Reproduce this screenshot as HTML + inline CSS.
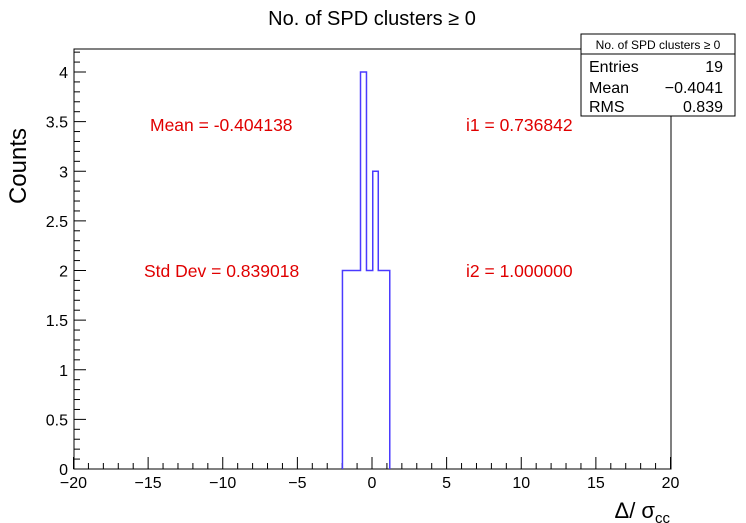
<!DOCTYPE html>
<html><head><meta charset="utf-8"><style>
body{margin:0;background:#fff}
svg{display:block;font-family:"Liberation Sans",sans-serif}
</style></head><body>
<svg id="c" width="746" height="523">
<rect x="0" y="0" width="746" height="523" fill="#fff"/>
<text x="372" y="25" font-size="20" text-anchor="middle">No. of SPD clusters ≥ 0</text>
<rect x="74" y="49" width="597" height="420" fill="none" stroke="#000" stroke-width="1"/>
<g id="ticks"></g>
<path id="hist" fill="none" stroke="#4a3aff" stroke-width="1.5"/>
<text x="26" y="128" font-size="24" text-anchor="end" transform="rotate(-90 26 128)">Counts</text>
<text x="670" y="518" font-size="22" text-anchor="end">Δ/ σ<tspan font-size="15" dy="5">cc</tspan></text>
<g fill="#e00000" font-size="17.5">
<text x="150" y="131">Mean = -0.404138</text>
<text x="466" y="131">i1 = 0.736842</text>
<text x="144" y="277">Std Dev = 0.839018</text>
<text x="466" y="277">i2 = 1.000000</text>
</g>
<g>
<rect x="581" y="34" width="154" height="82" fill="#fff" stroke="#000"/>
<line x1="581" y1="54" x2="735" y2="54" stroke="#000"/>
<text x="658" y="49" font-size="12" text-anchor="middle">No. of SPD clusters ≥ 0</text>
<text x="589" y="72" font-size="16">Entries</text><text x="723" y="72" font-size="16" text-anchor="end">19</text>
<text x="589" y="93" font-size="16">Mean</text><text x="723" y="93" font-size="16" text-anchor="end">−0.4041</text>
<text x="589" y="112" font-size="16">RMS</text><text x="723" y="112" font-size="16" text-anchor="end">0.839</text>
</g>
</svg>
<script>
const binEdges=[-1.98,-0.77,-0.37,0.05,0.42,1.19];
const binCounts=[2,4,2,3,2];
const xTicks=[-20,-15,-10,-5,0,5,10,15,20];
const yTicks=[0,0.5,1,1.5,2,2.5,3,3.5,4];
const X=v=>372+v*14.925, Y=v=>469-v*99.25;
const ns="http://www.w3.org/2000/svg";
const g=document.getElementById('ticks');
function ln(x1,y1,x2,y2,name){const l=document.createElementNS(ns,'line');
l.setAttribute('x1',x1);l.setAttribute('y1',y1);l.setAttribute('x2',x2);l.setAttribute('y2',y2);l.setAttribute('stroke','#000');


g.appendChild(l);}
function tx(x,y,s,anc,name){const t=document.createElementNS(ns,'text');
t.setAttribute('x',x);t.setAttribute('y',y);t.setAttribute('font-size','16');t.setAttribute('text-anchor',anc);t.textContent=s;


g.appendChild(t);}
for(let v=-20;v<=20;v++){const big=v%5===0;ln(X(v),469,X(v),469-(big?12:6),'x-tick');}
for(let i=0;i<=42;i++){const v=i*0.1;if(Y(v)<49)break;const big=i%5===0;ln(74,Y(v),74+(big?12:6),Y(v),'y-tick');}
xTicks.forEach(v=>tx(X(v),488,String(v).replace('-','−'),'middle','x-tick-label'));
yTicks.forEach(v=>tx(68,Y(v)+6,String(v),'end','y-tick-label'));
let d='M'+X(binEdges[0])+' '+Y(0);
binCounts.forEach((c,i)=>{d+=' L'+X(binEdges[i])+' '+Y(c)+' L'+X(binEdges[i+1])+' '+Y(c);});
d+=' L'+X(binEdges[binEdges.length-1])+' '+Y(0);
document.getElementById('hist').setAttribute('d',d);
</script>
</body></html>
